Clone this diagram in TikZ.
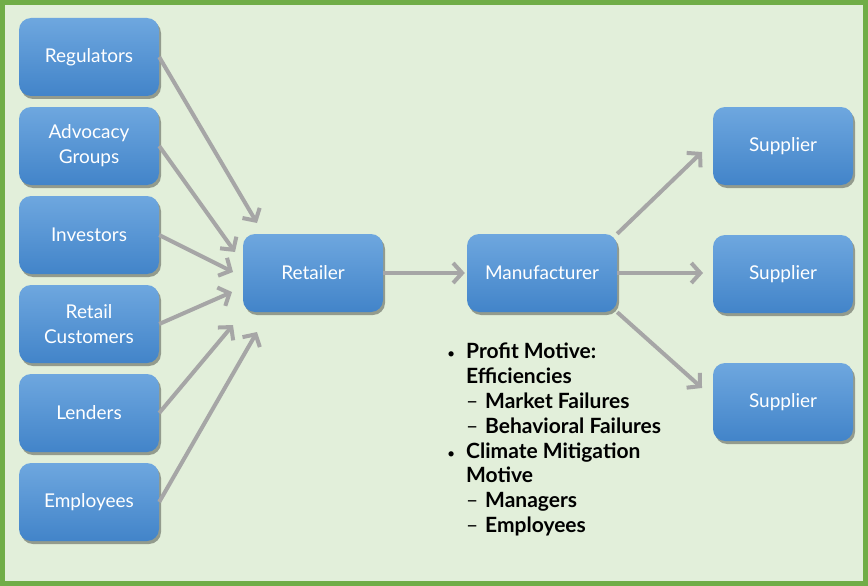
\documentclass[tikz,border=0pt]{standalone}
\usepackage{fontspec}
\setmainfont{Lato}
\usepackage{tikz}
\usetikzlibrary{arrows.meta,shadows}
\definecolor{frame}{HTML}{70AD47}
\definecolor{paper}{HTML}{E2EFDA}
\definecolor{boxtop}{HTML}{6EA7DF}
\definecolor{boxbot}{HTML}{4284C9}
\definecolor{link}{HTML}{A6A6A6}
\newcommand{\dotitem}{\makebox[19pt][l]{\mdseries\fontsize{14}{14}\selectfont\textbullet}}
\newcommand{\dashitem}{\hspace*{19pt}\makebox[19pt][l]{\mdseries--}}

\begin{document}
\begin{tikzpicture}
		[x=1pt,y=-1pt,
		party/.style={rounded corners=12pt,top color=boxtop,bottom color=boxbot,
minimum width=140pt,minimum height=78pt,inner sep=0pt,align=center,
text=white,font=\fontsize{19}{25}\selectfont,
drop shadow={shadow xshift=2pt,shadow yshift=-3pt,opacity=0.35,fill=black}},
		flow/.style={-{Straight Barb[length=9pt,width=20pt]},line width=4pt,draw=link},
		motives/.style={anchor=north west,inner sep=0pt,align=left,
font=\bfseries\fontsize{21}{24.8}\selectfont}]
		\useasboundingbox (0,0) rectangle (868,586);
		\fill[paper] (0,0) rectangle (868,586);
		\draw[frame,line width=5pt] (2.5,2.5) rectangle (865.5,583.5);
		% stakeholders
		\node at (89,57) (reg) [party] {Regulators};
		\node at (89,146) (adv) [party] {Advocacy\\Groups};
		\node at (89,235) (inv) [party] {Investors};
		\node at (89,324) (cust) [party] {Retail\\Customers};
		\node at (89,413) (lend) [party] {Lenders};
		\node at (89,502) (emp) [party] {Employees};
		% chain
		\node at (313,273) (ret) [party] {Retailer};
		\node at (542,273) (man) [party,minimum width=150pt] {Manufacturer};
		\node at (783,146) (sup1) [party] {Supplier};
		\node at (783,274) (sup2) [party] {Supplier};
		\node at (783,402) (sup3) [party] {Supplier};
		% arrow ends
		\coordinate (in1) at (257,223);
		\coordinate (in2) at (235,252);
		\coordinate (in3) at (233,272);
		\coordinate (in4) at (232,292);
		\coordinate (in5) at (233,325);
		\coordinate (in6) at (257,332);
		\coordinate (out1) at (702,152);
		\coordinate (out2) at (703,273);
		\coordinate (out3) at (702,388);
		\draw[flow] (reg.east) -- (in1);
		\draw[flow] (adv.east) -- (in2);
		\draw[flow] (inv.east) -- (in3);
		\draw[flow] (cust.east) -- (in4);
		\draw[flow] (lend.east) -- (in5);
		\draw[flow] (emp.east) -- (in6);
		\draw[flow,shorten >=2pt] (ret.east) -- (man.west);
		\draw[flow] (man.north east) -- (out1);
		\draw[flow] (man.east) -- (out2);
		\draw[flow] (man.south east) -- (out3);
		% motives
		\node at (447,343) (list) [motives] {\dotitem Profit Motive:\\
\hspace*{19pt}Efficiencies\\
\dashitem Market Failures\\
\dashitem Behavioral Failures\\
\dotitem Climate Mitigation\\
\hspace*{19pt}Motive\\
\dashitem Managers\\
\dashitem Employees};
	\end{tikzpicture}
\end{document}
